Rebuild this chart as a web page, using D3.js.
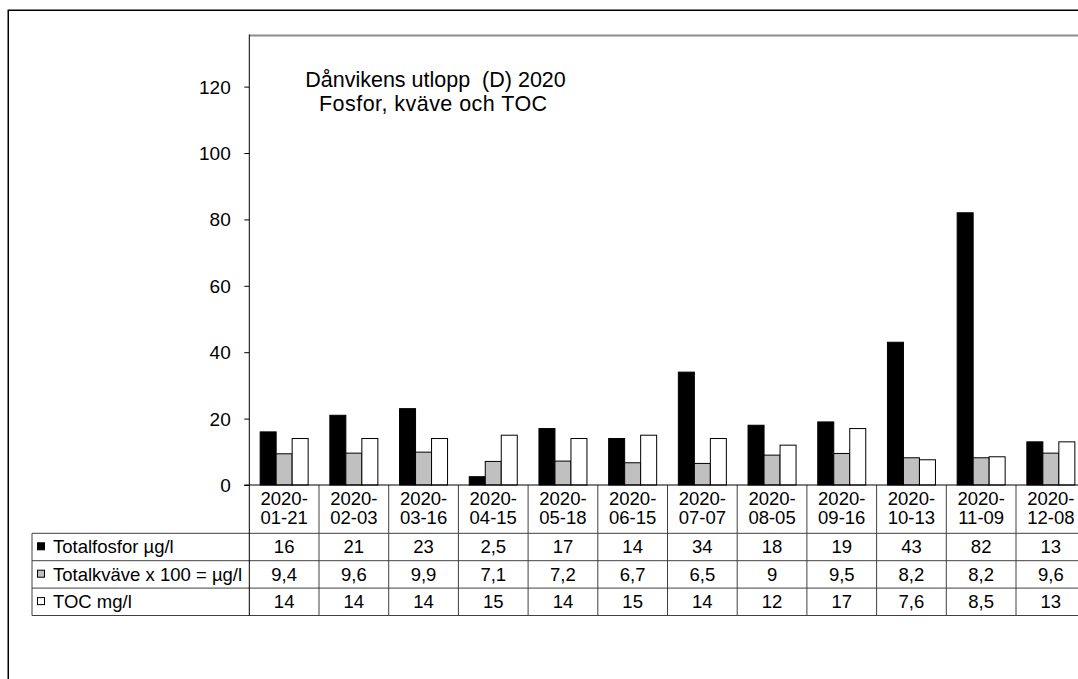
<!DOCTYPE html>
<html>
<head>
<meta charset="utf-8">
<script src="https://cdn.jsdelivr.net/npm/d3@7"></script>
<style>
  body { margin: 0; background: #fff; }
  svg text { font-family: "Liberation Sans", Arial, sans-serif; fill: #000; }
</style>
</head>
<body>
<div id="chart"></div>
<script>
'use strict';

// data
const dates = ["2020-01-21", "2020-02-03", "2020-03-16", "2020-04-15", "2020-05-18", "2020-06-15",
               "2020-07-07", "2020-08-05", "2020-09-16", "2020-10-13", "2020-11-09", "2020-12-08"];
const seriesNames = ["Totalfosfor µg/l", "Totalkväve x 100 = µg/l", "TOC mg/l"];
const fosfor = [16, 21, 23, 2.5, 17, 14, 34, 18, 19, 43, 82, 13];
const kvave = [9.4, 9.6, 9.9, 7.1, 7.2, 6.7, 6.5, 9, 9.5, 8.2, 8.2, 9.6];
const toc = [14, 14, 14, 15, 14, 15, 14, 12, 17, 7.6, 8.5, 13];
const yTicks = [0, 20, 40, 60, 80, 100, 120];
const titleLines = ["Dånvikens utlopp  (D) 2020", "Fosfor, kväve och TOC"];

const seriesValues = [fosfor, kvave, toc];
const fills = ["#000000", "#c0c0c0", "#ffffff"];

const width = 1078,
    height = 679,
    plot = {left: 249.3, right: 1085.7, top: 35.5, bottom: 485},
    table = {left: 32, headerBottom: 533.3, rowH: 27.4};

const svg = d3.select("#chart").append("svg")
    .attr("width", width)
    .attr("height", height);

// outer chart border (runs off the right and bottom edge)
svg.append("rect")
    .attr("x", 8.25).attr("y", 10.25)
    .attr("width", 1200).attr("height", 800)
    .attr("fill", "#fff")
    .attr("stroke", "#000")
    .attr("stroke-width", 1.5);

const x = d3.scaleBand()
    .domain(dates)
    .range([plot.left, plot.right])
    .padding(0);

const groupW = 48;
const x1 = d3.scaleBand()
    .domain(d3.range(seriesNames.length))
    .range([(x.bandwidth() - groupW) / 2, (x.bandwidth() + groupW) / 2]);

const y = d3.scaleLinear()
    .domain([0, 135.4])
    .range([plot.bottom, plot.top]);

// plot area top border
svg.append("line")
    .attr("x1", plot.left).attr("x2", width + 10)
    .attr("y1", plot.top).attr("y2", plot.top)
    .attr("stroke", "#8c8c8c")
    .attr("stroke-width", 2);

// bars
const groups = svg.append("g").selectAll("g")
    .data(dates)
    .join("g")
    .attr("transform", d => `translate(${x(d)},0)`);

groups.selectAll("rect")
    .data((d, i) => seriesValues.map((vals, s) => ({s: s, v: vals[i]})))
    .join("rect")
    .attr("x", d => x1(d.s))
    .attr("width", x1.bandwidth())
    .attr("y", d => y(d.v))
    .attr("height", d => y(0) - y(d.v))
    .attr("fill", d => fills[d.s])
    .attr("stroke", "#000")
    .attr("stroke-width", 1);

// y axis
const yAxis = d3.axisLeft(y)
    .tickValues(yTicks)
    .tickSize(5)
    .tickPadding(13.6)
    .tickSizeOuter(0);

const yg = svg.append("g")
    .attr("transform", `translate(${plot.left},0)`)
    .call(yAxis);
yg.select(".domain").remove();
yg.selectAll(".tick line").attr("stroke", "#000");
yg.selectAll(".tick text")
    .style("font-size", "19px")
    .attr("dy", "0.34em");

svg.append("line")
    .attr("x1", plot.left).attr("x2", plot.left)
    .attr("y1", plot.top - 1).attr("y2", plot.bottom)
    .attr("stroke", "#000");

// data table under the chart
const rowTop = i => table.headerBottom + i * table.rowH;
const tableBottom = rowTop(seriesNames.length);
const bounds = dates.map(d => x(d)).concat([plot.right]);

const grid = svg.append("g").attr("stroke", "#404040").attr("stroke-width", 1);

grid.selectAll("line.hrow")
    .data(d3.range(seriesNames.length + 1))
    .join("line")
    .attr("class", "hrow")
    .attr("x1", table.left).attr("x2", plot.right)
    .attr("y1", d => rowTop(d)).attr("y2", d => rowTop(d));

grid.append("line")
    .attr("x1", table.left).attr("x2", table.left)
    .attr("y1", table.headerBottom).attr("y2", tableBottom);

grid.selectAll("line.vcol")
    .data(bounds)
    .join("line")
    .attr("class", "vcol")
    .attr("x1", d => d).attr("x2", d => d)
    .attr("y1", plot.bottom).attr("y2", tableBottom)
    .attr("stroke", (d, i) => i === 0 ? "#000" : "#404040");

// x axis line
svg.append("line")
    .attr("x1", plot.left - 5).attr("x2", plot.right)
    .attr("y1", plot.bottom).attr("y2", plot.bottom)
    .attr("stroke", "#000");

// date headers
const header = svg.append("g").selectAll("text")
    .data(dates)
    .join("text")
    .attr("text-anchor", "middle")
    .style("font-size", "18.5px");
header.append("tspan")
    .attr("x", d => x(d) + x.bandwidth() / 2)
    .attr("y", 505)
    .text(d => d.slice(0, 5));
header.append("tspan")
    .attr("x", d => x(d) + x.bandwidth() / 2)
    .attr("y", 524)
    .text(d => d.slice(5));

// row headers with legend keys
const rows = svg.append("g").selectAll("g")
    .data(seriesNames)
    .join("g")
    .attr("transform", (d, i) => `translate(0,${rowTop(i)})`);

rows.append("rect")
    .attr("x", 37.5).attr("y", 9.5)
    .attr("width", 7).attr("height", 7)
    .attr("fill", (d, i) => fills[i])
    .attr("stroke", "#000");

rows.append("text")
    .attr("x", 53)
    .attr("y", 20)
    .style("font-size", "18.5px")
    .text(d => d);

const fmt = v => String(v).replace(".", ",");

rows.each(function(name, s) {
    d3.select(this).selectAll("text.val")
        .data(seriesValues[s])
        .join("text")
        .attr("class", "val")
        .attr("x", (v, i) => x(dates[i]) + x.bandwidth() / 2)
        .attr("y", 20)
        .attr("text-anchor", "middle")
        .style("font-size", "18.5px")
        .text(v => fmt(v));
});

// title
svg.append("g").selectAll("text")
    .data(titleLines)
    .join("text")
    .attr("x", (d, i) => i === 0 ? 435.5 : 433.3)
    .attr("y", (d, i) => 86.5 + i * 24)
    .attr("text-anchor", "middle")
    .style("font-size", "21.5px")
    .style("letter-spacing", (d, i) => i === 0 ? "0px" : "0.45px")
    .style("white-space", "pre")
    .attr("xml:space", "preserve")
    .text(d => d);
</script>
</body>
</html>
